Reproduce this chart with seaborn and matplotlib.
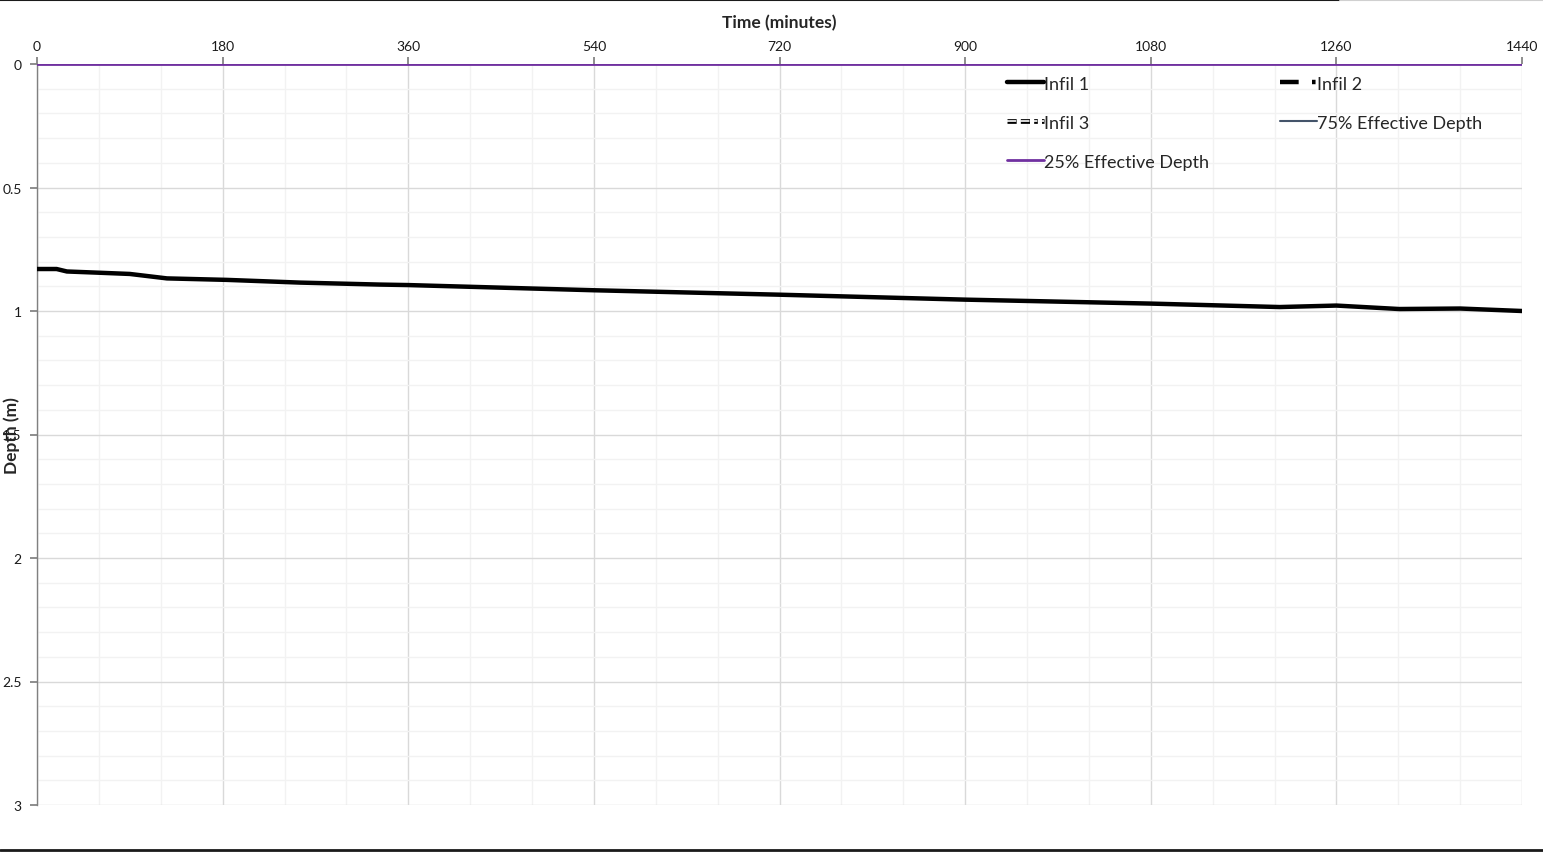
import matplotlib
matplotlib.use("Agg")
import matplotlib.pyplot as plt
import matplotlib.patheffects as pe
from matplotlib.lines import Line2D
import numpy as np
import pandas as pd
import seaborn as sns

# data
time_min = [0, 10, 19, 29, 60, 90, 126, 184, 255, 332, 360, 540, 720, 900, 1080, 1205, 1260, 1321, 1380, 1440]
infil_1 = [0.83, 0.83, 0.83, 0.84, 0.845, 0.85, 0.868, 0.874, 0.885, 0.893, 0.895, 0.916, 0.934, 0.954,
           0.97, 0.984, 0.978, 0.992, 0.99, 1.0]
infil_2 = [np.nan] * len(time_min)
infil_3 = [np.nan] * len(time_min)
eff_time = [0, 1440]
eff_75 = [0, 0]
eff_25 = [0, 0]

x_ticks = [0, 180, 360, 540, 720, 900, 1080, 1260, 1440]
y_ticks = [0, 0.5, 1, 1.5, 2, 2.5, 3]

sns.set_theme(style="white")
plt.rcParams["font.family"] = ["Lato", "DejaVu Sans"]

fig = plt.figure(figsize=(15.43, 8.54), dpi=100)
ax = fig.add_axes([37 / 1543, 1 - 806 / 854, 1485 / 1543, 741 / 854])

df1 = pd.DataFrame({"t": time_min, "d": infil_1})
sns.lineplot(data=df1, x="t", y="d", ax=ax, color="black", lw=3.2, label="Infil 1", zorder=5)
ax.plot(time_min, infil_2, color="black", lw=3.2, dashes=(4.2, 3.0, 0.8, 3.5), label="Infil 2")
ax.plot(time_min, infil_3, color="white", lw=1.2, dashes=(5.5, 2.5, 5.5, 2.5, 2.2, 2.5), label="Infil 3",
        path_effects=[pe.Stroke(linewidth=3.4, foreground="black"), pe.Normal()])
df_eff = pd.DataFrame({"t": eff_time, "d75": eff_75, "d25": eff_25})
sns.lineplot(data=df_eff, x="t", y="d75", ax=ax, color="#44546A", lw=1.5, label="75% Effective Depth")
sns.lineplot(data=df_eff, x="t", y="d25", ax=ax, color="#7030A0", lw=2.0, label="25% Effective Depth", zorder=6)

ax.set_xlim(0, 1440)
ax.set_ylim(3, 0)
ax.set_xticks(x_ticks)
ax.set_yticks(y_ticks)
ax.set_yticklabels(["0", "0.5", "1", "1.5", "2", "2.5", "3"])
ax.set_xticks(np.arange(0, 1441, 60), minor=True)
ax.set_yticks(np.arange(0, 3.01, 0.1), minor=True)
ax.grid(which="major", color="#d9d9d9", lw=1.0)
ax.grid(which="minor", color="#f2f2f2", lw=1.0)
ax.set_axisbelow(True)

ax.xaxis.tick_top()
ax.xaxis.set_label_position("top")
ax.tick_params(axis="x", which="major", top=True, bottom=False, length=5, color="#808080",
               labelsize=10, pad=4, labelcolor="#1a1a1a")
ax.tick_params(axis="y", which="major", left=True, length=5, color="#808080",
               labelsize=10, pad=6, labelcolor="#1a1a1a")
ax.tick_params(which="minor", length=0)

for s in ["top", "right", "bottom"]:
    ax.spines[s].set_visible(False)
ax.spines["left"].set_color("#808080")
ax.spines["left"].set_linewidth(1.0)

ax.set_xlabel("Time (minutes)", fontsize=12.5, fontweight="bold", labelpad=9)
ax.set_ylabel("Depth (m)", fontsize=12.5, fontweight="bold")
ax.yaxis.set_label_coords(-0.0115, 0.5)

# row-wise order like the reference: matplotlib fills columns first
handles, labels = ax.get_legend_handles_labels()
order = [0, 2, 4, 1, 3]
ax.legend([handles[i] for i in order], [labels[i] for i in order],
          loc="upper left", bbox_to_anchor=(0.6424, 1.006), ncol=2, frameon=False, fontsize=13,
          handlelength=2.05, handletextpad=0.0, columnspacing=3.9, labelspacing=1.27)

# screenshot borders
fig.add_artist(Line2D([0, 1340 / 1543], [0.999, 0.999], transform=fig.transFigure, color="#1a1a1a", lw=1.5))
fig.add_artist(Line2D([1340 / 1543, 1], [0.999, 0.999], transform=fig.transFigure, color="#d0d0d0", lw=1.5))
fig.add_artist(Line2D([0, 1], [0.003, 0.003], transform=fig.transFigure, color="#1a1a1a", lw=2))

fig.savefig("out.png", dpi=100)
